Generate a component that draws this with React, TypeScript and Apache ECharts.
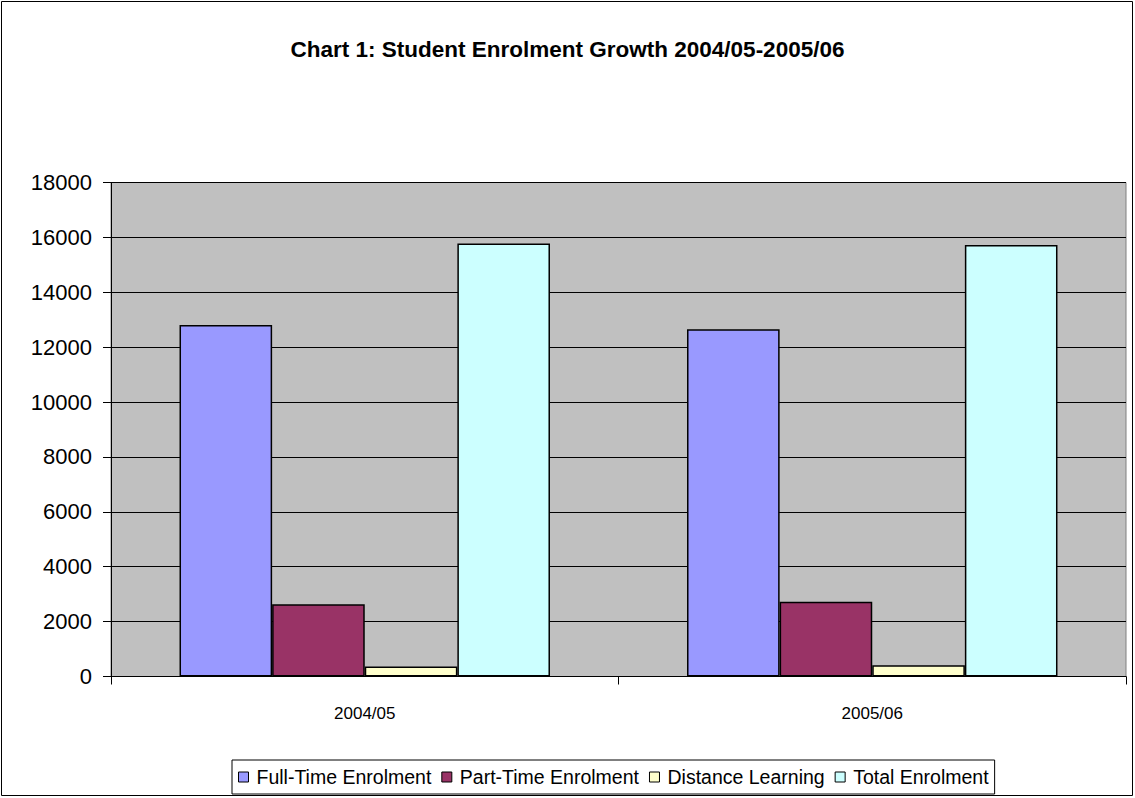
import React, { useEffect, useRef } from "react";
import * as echarts from "echarts";

const categories = ["2004/05", "2005/06"];
const fullTime = [12810, 12650];
const partTime = [2630, 2725];
const distance = [360, 410];
const total = [15775, 15725];
const seriesNames = ["Full-Time Enrolment", "Part-Time Enrolment", "Distance Learning", "Total Enrolment"];
const seriesColors = ["#9999FF", "#993366", "#FFFFCC", "#CCFFFF"];
const yTicks = { min: 0, max: 18000, interval: 2000 };

const FONT = "Liberation Sans, Arial, sans-serif";

export default function App() {
  const ref = useRef<HTMLDivElement>(null);
  useEffect(() => {
    if (!ref.current) return;
    const chart = echarts.init(ref.current, null, { renderer: "svg" });
    const data = [fullTime, partTime, distance, total];
    chart.setOption({
      animation: false,
      backgroundColor: "#FFFFFF",
      textStyle: { fontFamily: FONT },
      title: {
        text: "Chart 1: Student Enrolment Growth 2004/05-2005/06",
        left: "center",
        top: 33,
        textStyle: { fontFamily: FONT, fontSize: 22.5, fontWeight: "bold", color: "#000" },
      },
      graphic: [
        {
          type: "rect",
          shape: { x: 1.5, y: 1.5, width: 1131, height: 794 },
          style: { fill: "none", stroke: "#000", lineWidth: 1 },
          silent: true,
          z: 100,
        },
      ],
      legend: {
        bottom: 4,
        left: 232,
        data: seriesNames,
        icon: "rect",
        itemWidth: 10,
        itemHeight: 10,
        itemGap: 10,
        borderColor: "#000",
        borderWidth: 1,
        padding: [7, 6, 7, 6],
        textStyle: { fontFamily: FONT, fontSize: 19.5, color: "#000", padding: [0, 0, 0, 3] },
        itemStyle: { borderColor: "#000", borderWidth: 1 },
      },
      grid: {
        left: 111,
        top: 182.5,
        width: 1015,
        height: 494,
        show: true,
        backgroundColor: "#C0C0C0",
        borderColor: "#808080",
        borderWidth: 1,
      },
      xAxis: {
        type: "category",
        data: categories,
        axisLine: { show: true, lineStyle: { color: "#000", width: 1 } },
        axisTick: { show: true, alignWithLabel: false, length: 8, lineStyle: { color: "#000" } },
        axisLabel: { fontFamily: FONT, fontSize: 17, color: "#000", margin: 28 },
        splitLine: { show: false },
      },
      yAxis: {
        type: "value",
        min: yTicks.min,
        max: yTicks.max,
        interval: yTicks.interval,
        axisLine: { show: true, lineStyle: { color: "#000", width: 1 } },
        axisTick: { show: true, length: 8, lineStyle: { color: "#000" } },
        axisLabel: {
          fontFamily: FONT,
          fontSize: 22,
          color: "#000",
          margin: 19,
          formatter: (v: number) => String(v),
        },
        splitLine: { show: true, lineStyle: { color: "#000", width: 1 } },
      },
      series: seriesNames.map((name, i) => ({
        name,
        type: "bar",
        data: data[i],
        barGap: "0%",
        barCategoryGap: "27%",
        itemStyle: { color: seriesColors[i], borderColor: "#000", borderWidth: 1.5 },
      })),
    });
    return () => chart.dispose();
  }, []);
  return (
    <div
      ref={ref}
      style={{ position: "absolute", left: 0, top: 0, width: 1135, height: 798 }}
    />
  );
}
